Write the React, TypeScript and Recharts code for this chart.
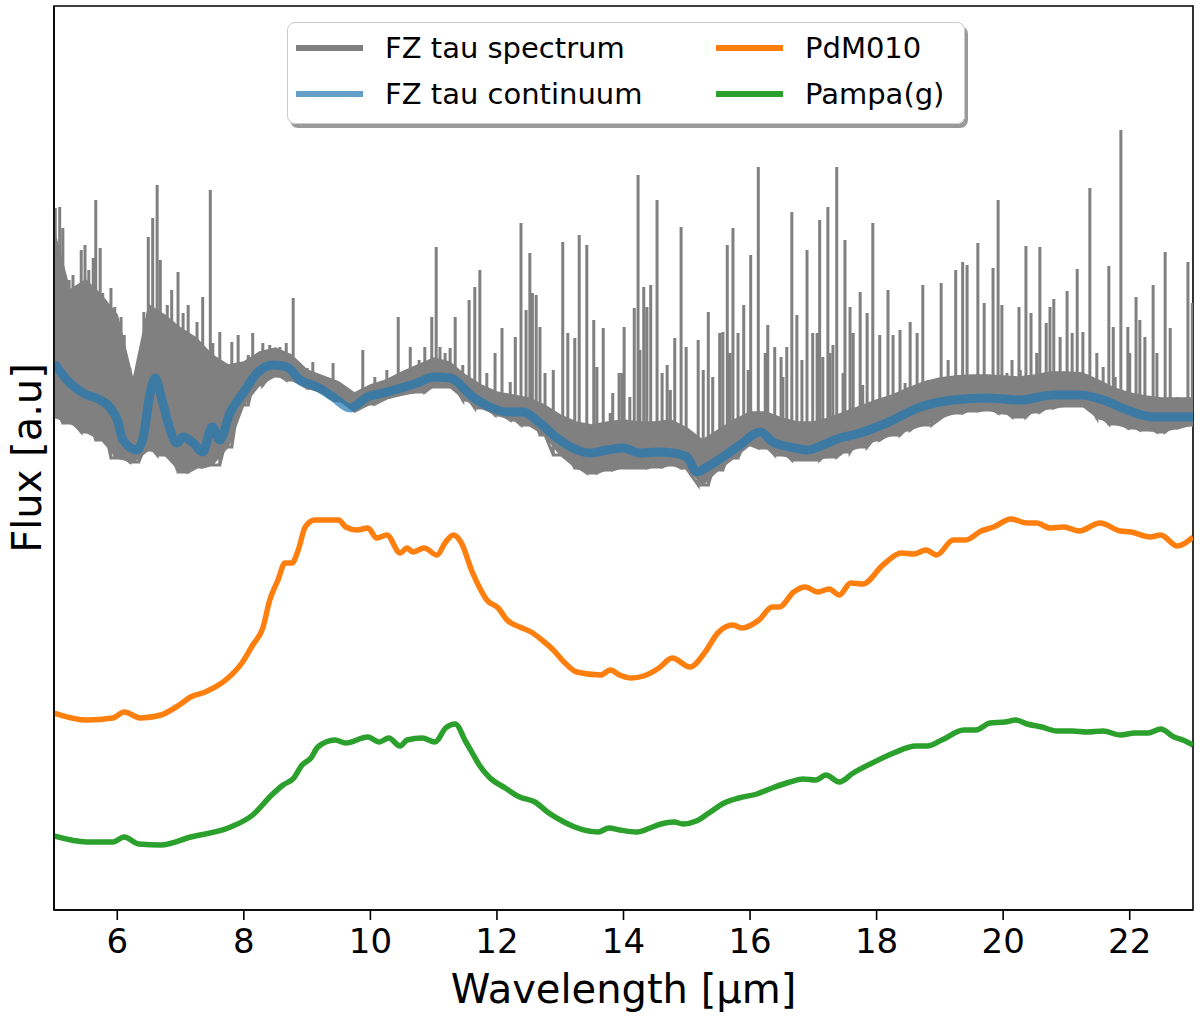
import { Area, ComposedChart, Line, ReferenceArea, XAxis, YAxis } from 'recharts';

// wavelength grid of the grey band (floor and dense top of the spectrum)
const bandX = [
  5, 5.25, 5.5, 5.75, 6, 6.25, 6.5, 6.75, 7, 7.25, 7.5, 7.75, 8, 8.25, 8.5, 8.75,
  9, 9.25, 9.5, 9.75, 10, 10.25, 10.5, 10.75, 11, 11.25, 11.5, 11.75, 12, 12.25,
  12.5, 12.75, 13, 13.25, 13.5, 13.75, 14, 14.25, 14.5, 14.75, 15, 15.25, 15.5,
  15.75, 16, 16.25, 16.5, 16.75, 17, 17.25, 17.5, 17.75, 18, 18.25, 18.5, 18.75,
  19, 19.25, 19.5, 19.75, 20, 20.25, 20.5, 20.75, 21, 21.25, 21.5, 21.75, 22,
  22.25, 22.5, 22.75, 23,
];
const bandLow = [
  4.93, 4.87, 4.78, 4.7, 4.52, 4.48, 4.6, 4.55, 4.38, 4.43, 4.45, 4.63, 5.05, 5.25,
  5.34, 5.3, 5.22, 5.17, 5.1, 4.98, 5.06, 5.12, 5.15, 5.18, 5.23, 5.23, 5.1, 5.02,
  4.95, 4.9, 4.85, 4.75, 4.55, 4.42, 4.37, 4.4, 4.42, 4.42, 4.43, 4.45, 4.42, 4.25,
  4.4, 4.52, 4.65, 4.62, 4.55, 4.5, 4.5, 4.53, 4.58, 4.63, 4.7, 4.75, 4.8, 4.85,
  4.92, 4.97, 4.99, 5.0, 4.97, 4.93, 4.98, 5.02, 5.04, 5.04, 4.92, 4.86, 4.82, 4.8,
  4.78, 4.82, 4.85,
];
const bandHigh = [
  6.8, 6.2, 6.3, 6.15, 5.95, 5.3, 6.05, 5.95, 5.82, 5.72, 5.55, 5.45, 5.48, 5.58, 5.62,
  5.55, 5.4, 5.34, 5.28, 5.17, 5.25, 5.3, 5.38, 5.45, 5.52, 5.48, 5.35, 5.25, 5.18,
  5.15, 5.12, 5.05, 4.95, 4.88, 4.85, 4.88, 4.9, 4.88, 4.88, 4.9, 4.82, 4.7, 4.8,
  4.9, 4.98, 4.98, 4.92, 4.88, 4.88, 4.92, 4.98, 5.04, 5.1, 5.15, 5.22, 5.28, 5.32,
  5.34, 5.35, 5.35, 5.34, 5.33, 5.35, 5.38, 5.38, 5.37, 5.3, 5.22, 5.17, 5.14, 5.12,
  5.12, 5.12,
];

// emission lines of the spectrum: wavelength and peak
const lineX = [
  5.02, 5.09, 5.14, 5.24, 5.3, 5.43, 5.49, 5.55, 5.62, 5.66, 5.73, 5.77, 5.84, 5.9,
  5.96, 6.06, 6.11, 6.2, 6.34, 6.42, 6.49, 6.56, 6.63, 6.68, 6.79, 6.86, 6.96, 7.04,
  7.12, 7.26, 7.35, 7.47, 7.51, 7.62, 7.69, 7.81, 7.91, 8.07, 8.14, 8.3, 8.41, 8.57,
  8.67, 8.78, 9.0, 9.09, 9.25, 9.41, 9.88, 10.07, 10.26, 10.44, 10.63, 10.77, 10.86,
  10.97, 11.04, 11.1, 11.18, 11.26, 11.34, 11.46, 11.56, 11.65, 11.73, 11.84, 11.97,
  12.08, 12.21, 12.29, 12.38, 12.46, 12.52, 12.56, 12.62, 12.68, 12.76, 12.89, 13.04,
  13.12, 13.23, 13.3, 13.42, 13.53, 13.58, 13.68, 13.79, 13.83, 13.93, 13.98, 14.01,
  14.1, 14.17, 14.23, 14.26, 14.32, 14.37, 14.43, 14.53, 14.61, 14.69, 14.74, 14.81,
  14.91, 14.99, 15.18, 15.26, 15.34, 15.41, 15.52, 15.57, 15.64, 15.68, 15.73, 15.81,
  15.9, 15.97, 16.01, 16.13, 16.24, 16.28, 16.39, 16.49, 16.52, 16.58, 16.66, 16.74,
  16.82, 16.9, 16.99, 17.06, 17.1, 17.15, 17.23, 17.26, 17.31, 17.37, 17.47, 17.5,
  17.58, 17.63, 17.74, 17.78, 17.85, 17.94, 18.05, 18.18, 18.26, 18.37, 18.45, 18.53,
  18.64, 18.73, 18.81, 18.87, 19.02, 19.13, 19.25, 19.36, 19.43, 19.6, 19.7, 19.84,
  19.92, 19.98, 20.06, 20.14, 20.25, 20.27, 20.36, 20.44, 20.53, 20.58, 20.68, 20.74,
  20.8, 20.9, 21.01, 21.09, 21.17, 21.26, 21.37, 21.48, 21.58, 21.67, 21.74, 21.77,
  21.86, 21.97, 22.0, 22.1, 22.16, 22.24, 22.37, 22.43, 22.56, 22.64, 22.76, 22.92,
  22.99,
];
const lineY = [
  7.02, 7.03, 6.82, 6.3, 6.35, 6.6, 6.65, 6.4, 6.52, 7.1, 6.62, 6.17, 5.83, 6.22,
  6.03, 5.93, 5.75, 5.42, 5.52, 5.98, 6.73, 6.92, 7.25, 6.5, 6.05, 6.2, 6.38, 5.97,
  6.05, 5.88, 6.13, 7.2, 5.67, 5.78, 5.3, 5.68, 5.75, 5.55, 5.77, 5.67, 5.65, 5.63,
  5.67, 6.12, 5.42, 5.48, 5.3, 5.47, 5.6, 5.33, 5.4, 5.93, 5.63, 5.5, 5.63,
  5.93, 6.63, 5.63, 5.57, 5.62, 5.93, 5.45, 6.1, 6.23, 6.4, 5.37, 5.57,
  5.82, 5.28, 5.73, 6.87, 6.0, 6.57, 6.17, 6.15, 5.83, 5.37, 5.4, 6.68,
  5.77, 5.72, 6.75, 6.65, 5.9, 5.43, 5.82, 4.97, 5.17, 5.37, 5.37, 5.83,
  5.13, 6.02, 7.35, 5.6, 6.23, 6.03, 6.25, 7.1, 5.37, 5.45, 5.2, 5.72,
  6.83, 5.63, 5.7, 5.4, 5.98, 5.33, 5.77, 5.78, 6.65, 5.57, 6.82, 5.77,
  6.05, 5.4, 6.55, 7.43, 5.57, 5.85, 5.63, 5.53, 5.33, 5.63, 6.98, 5.95,
  5.5, 6.6, 5.77, 5.77, 6.9, 5.53, 7.03, 5.57, 5.65, 7.43, 5.37, 6.7,
  6.03, 5.77, 6.18, 5.25, 5.97, 6.87, 5.75, 6.2, 5.75, 5.8, 5.27, 5.88,
  5.77, 6.25, 5.3, 5.27, 6.27, 5.5, 6.4, 6.48, 6.45, 6.67, 6.07, 6.42,
  7.1, 6.05, 5.37, 5.5, 6.03, 5.4, 6.64, 5.97, 5.57, 6.63, 5.87, 6.03,
  6.11, 5.73, 6.19, 5.77, 6.41, 5.78, 7.22, 5.57, 5.43, 6.44, 5.83, 5.33,
  7.8, 5.83, 5.57, 6.13, 5.9, 5.73, 6.25, 5.57, 6.58, 5.82, 5.13, 6.48,
  6.07,
];

// FZ tau continuum
const contX = [
  5.0, 5.25, 5.46, 5.73, 5.88, 6.0, 6.09, 6.31, 6.41, 6.52, 6.6, 6.68, 6.79, 6.94,
  7.04, 7.2, 7.35, 7.5, 7.62, 7.78, 7.99, 8.21, 8.46, 8.68, 8.89, 9.16, 9.41, 9.68,
  9.95, 10.2, 10.74, 10.99, 11.26, 11.62, 11.89, 12.16, 12.41, 12.68, 12.95, 13.2,
  13.47, 13.74, 13.99, 14.26, 14.53, 14.78, 15.0, 15.16, 15.32, 15.57, 15.84, 16.16,
  16.36, 16.63, 16.9, 17.15, 17.42, 17.63, 18.16, 18.69, 19.21, 19.74, 20.27, 20.79,
  21.21, 21.58, 21.96, 22.37, 23.0,
];
const contY = [
  5.47, 5.27, 5.17, 5.1, 5.03, 4.9, 4.7, 4.6, 4.73, 5.17, 5.32, 5.17, 4.9, 4.67,
  4.73, 4.67, 4.58, 4.83, 4.7, 4.97, 5.17, 5.37, 5.45, 5.43, 5.3, 5.23, 5.13, 5.02,
  5.13, 5.17, 5.27, 5.33, 5.32, 5.13, 5.03, 4.98, 4.98, 4.87, 4.72, 4.62,
  4.57, 4.6, 4.62, 4.57, 4.58, 4.57, 4.53, 4.38, 4.43, 4.53, 4.65, 4.78,
  4.68, 4.63, 4.6, 4.65, 4.72, 4.75, 4.87, 5.03, 5.1, 5.12, 5.1, 5.15,
  5.15, 5.1, 5.0, 4.93, 4.93,
];

// PdM010 model
const pdmX = [
  5.0, 5.52, 5.93, 6.11, 6.37, 6.69, 6.98, 7.16, 7.39, 7.75, 7.97, 8.14, 8.3, 8.41,
  8.54, 8.65, 8.76, 8.86, 8.97, 9.12, 9.5, 9.61, 9.79, 9.96, 10.1, 10.26, 10.47,
  10.58, 10.67, 10.85, 11.05, 11.19, 11.31, 11.43, 11.61, 11.72, 11.84, 12.02, 12.16,
  12.36, 12.54, 12.71, 12.89, 13.06, 13.26, 13.64, 13.79, 13.94, 14.12, 14.32, 14.56,
  14.77, 15.05, 15.29, 15.49, 15.73, 15.87, 16.14, 16.35, 16.46, 16.69, 16.87, 17.07,
  17.25, 17.41, 17.59, 17.78, 18.1, 18.39, 18.59, 18.78, 18.95, 19.21, 19.41, 19.65,
  19.85, 20.12, 20.38, 20.53, 20.74, 20.96, 21.2, 21.53, 21.85, 22.02, 22.32, 22.49,
  22.75, 23.0,
];
const pdmY = [
  1.97, 1.9, 1.92, 1.98, 1.92, 1.95, 2.05, 2.13, 2.18, 2.32, 2.47, 2.65, 2.82, 3.1,
  3.3, 3.47, 3.47, 3.6, 3.83, 3.9, 3.9, 3.83, 3.8, 3.82, 3.72, 3.75, 3.57,
  3.62, 3.58, 3.62, 3.55, 3.68, 3.75, 3.68, 3.38, 3.23, 3.1, 3.02, 2.9,
  2.83, 2.78, 2.7, 2.6, 2.48, 2.38, 2.35, 2.4, 2.35, 2.32, 2.34, 2.42,
  2.52, 2.43, 2.58, 2.77, 2.85, 2.82, 2.9, 3.03, 3.03, 3.18, 3.23, 3.18,
  3.21, 3.15, 3.27, 3.26, 3.45, 3.57, 3.56, 3.6, 3.55, 3.7, 3.7, 3.79,
  3.83, 3.91, 3.87, 3.87, 3.82, 3.83, 3.79, 3.87, 3.79, 3.78, 3.73, 3.75,
  3.64, 3.73,
];

// Pampa(g) model
const pampaX = [
  5.0, 5.52, 5.93, 6.11, 6.34, 6.69, 7.16, 7.75, 8.14, 8.44, 8.62, 8.79, 8.92, 9.06,
  9.17, 9.44, 9.61, 9.96, 10.14, 10.29, 10.47, 10.58, 10.82, 11.02, 11.19, 11.34,
  11.51, 11.61, 11.72, 11.89, 12.13, 12.36, 12.6, 12.82, 13.06, 13.23, 13.6, 13.77,
  13.94, 14.21, 14.42, 14.59, 14.8, 14.94, 15.15, 15.35, 15.59, 15.82, 16.11, 16.35,
  16.63, 16.84, 17.04, 17.2, 17.41, 17.63, 17.93, 18.27, 18.62, 18.8, 19.03, 19.38,
  19.57, 19.79, 20.03, 20.2, 20.38, 20.61, 20.85, 21.09, 21.32, 21.58, 21.85, 22.08,
  22.29, 22.49, 22.7, 22.84, 23.0,
];
const pampaY = [
  0.74, 0.68, 0.68, 0.73, 0.66, 0.65, 0.73, 0.82, 0.95, 1.15, 1.25, 1.32, 1.45, 1.52,
  1.63, 1.7, 1.67, 1.73, 1.68, 1.72, 1.64, 1.7, 1.72, 1.68, 1.82, 1.86,
  1.68, 1.57, 1.45, 1.32, 1.22, 1.13, 1.08, 0.97, 0.88, 0.83, 0.78, 0.82,
  0.8, 0.78, 0.82, 0.86, 0.88, 0.86, 0.89, 0.97, 1.07, 1.12, 1.16, 1.22,
  1.28, 1.31, 1.3, 1.35, 1.28, 1.37, 1.47, 1.57, 1.64, 1.64, 1.7, 1.8,
  1.8, 1.87, 1.88, 1.9, 1.86, 1.83, 1.79, 1.79, 1.78, 1.79, 1.75, 1.77,
  1.77, 1.81, 1.73, 1.7, 1.65,
];

const xTicks = [6, 8, 10, 12, 14, 16, 18, 20, 22];
const X_DOMAIN = [5, 23];
const Y_DOMAIN = [0, 9.04];

const FONT = 'DejaVu Sans';

const bandData = bandX.map((x, i) => ({ x, band: [bandLow[i], bandHigh[i]] }));

// each line rises from the band floor nearest to it and falls back
const spikeData = lineX.flatMap((x, i) => {
  let j = 0;
  bandX.forEach((bx, k) => {
    if (Math.abs(bx - x) < Math.abs(bandX[j] - x)) j = k;
  });
  const foot = bandLow[j];
  return [
    { x, y: foot },
    { x, y: lineY[i] },
    { x, y: foot },
  ];
});

const toRows = (xs: number[], ys: number[]) => xs.map((x, i) => ({ x, y: ys[i] }));
const contData = toRows(contX, contY);
const pdmData = toRows(pdmX, pdmY);
const pampaData = toRows(pampaX, pampaY);

const legendItems = [
  { label: 'FZ tau spectrum', color: '#808080' },
  { label: 'FZ tau continuum', color: '#62a0ca' },
  { label: 'PdM010', color: '#ff7f0e' },
  { label: 'Pampa(g)', color: '#2ca02c' },
];

function LegendBox() {
  return (
    <div
      style={{
        position: 'absolute',
        left: 287,
        top: 22,
        width: 676,
        height: 100,
        border: '1.5px solid #cccccc',
        borderRadius: 8,
        background: 'rgba(255,255,255,0.85)',
        boxShadow: '3px 4px 0 #9a9a9a',
        fontFamily: FONT,
        fontSize: 29,
        color: '#000',
      }}
    >
      {legendItems.map((item, i) => {
        const col = Math.floor(i / 2);
        const row = i % 2;
        return (
          <div
            key={item.label}
            style={{
              position: 'absolute',
              left: col === 0 ? 8 : 428,
              top: row === 0 ? 5 : 51,
              height: 40,
              display: 'flex',
              alignItems: 'center',
              whiteSpace: 'nowrap',
            }}
          >
            <span
              style={{
                display: 'inline-block',
                width: 67,
                height: 6,
                background: item.color,
                marginRight: 22,
              }}
            />
            <span>{item.label}</span>
          </div>
        );
      })}
    </div>
  );
}

export default function App() {
  return (
    <div style={{ position: 'absolute', left: 0, top: 0, width: 1200, height: 1017, background: '#fff' }}>
      <ComposedChart width={1200} height={1017} margin={{ top: 6, right: 7, left: 0, bottom: 0 }}>
        <XAxis
          dataKey="x"
          type="number"
          domain={X_DOMAIN}
          ticks={xTicks}
          allowDataOverflow
          height={107}
          tickSize={10}
          tickMargin={9}
          stroke="#000"
          strokeWidth={1.6}
          tick={{ fill: '#000', fontSize: 34, fontFamily: FONT }}
          label={{
            value: 'Wavelength [µm]',
            position: 'insideBottom',
            offset: 14,
            fill: '#000',
            fontSize: 40,
            fontFamily: FONT,
          }}
        />
        <YAxis
          type="number"
          domain={Y_DOMAIN}
          allowDataOverflow
          width={54}
          tick={false}
          tickLine={false}
          stroke="#000"
          strokeWidth={1.6}
          label={{
            value: 'Flux [a.u]',
            angle: -90,
            position: 'center',
            fill: '#000',
            fontSize: 40,
            fontFamily: FONT,
          }}
        />
        <Area
          data={bandData}
          dataKey="band"
          type="linear"
          stroke="#808080"
          strokeWidth={1.5}
          fill="#808080"
          fillOpacity={1}
          dot={false}
          activeDot={false}
          isAnimationActive={false}
        />
        <Line
          data={spikeData}
          dataKey="y"
          type="linear"
          stroke="#808080"
          strokeWidth={3}
          dot={false}
          activeDot={false}
          isAnimationActive={false}
        />
        <Line
          data={contData}
          dataKey="y"
          type="monotone"
          stroke="#1f77b4"
          strokeOpacity={0.7}
          strokeWidth={9}
          strokeLinejoin="round"
          dot={false}
          activeDot={false}
          isAnimationActive={false}
        />
        <Line
          data={pdmData}
          dataKey="y"
          type="monotone"
          stroke="#ff7f0e"
          strokeWidth={5.5}
          strokeLinejoin="round"
          dot={false}
          activeDot={false}
          isAnimationActive={false}
        />
        <Line
          data={pampaData}
          dataKey="y"
          type="monotone"
          stroke="#2ca02c"
          strokeWidth={5.5}
          strokeLinejoin="round"
          dot={false}
          activeDot={false}
          isAnimationActive={false}
        />
        {/* plot frame (matplotlib box) */}
        <ReferenceArea
          x1={X_DOMAIN[0]}
          x2={X_DOMAIN[1]}
          y1={Y_DOMAIN[0]}
          y2={Y_DOMAIN[1]}
          fill="none"
          stroke="#000"
          strokeWidth={1.6}
          ifOverflow="visible"
        />
      </ComposedChart>
      <LegendBox />
    </div>
  );
}
